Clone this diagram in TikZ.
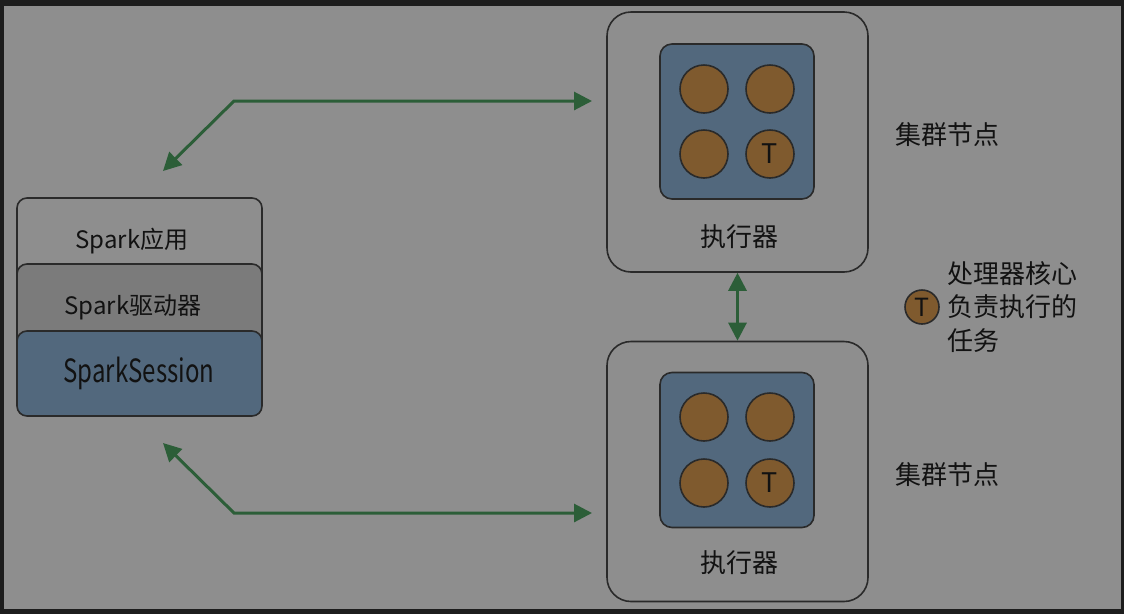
\documentclass[tikz,border=0pt]{standalone}
\usepackage{fontspec}
\setmainfont{Noto Sans CJK SC}
\newfontfamily\condfont[FakeStretch=0.75]{Noto Sans CJK SC}
\usetikzlibrary{arrows.meta}
\definecolor{frameC}{HTML}{1D1D1D}
\definecolor{bgC}{HTML}{8E8E8E}
\definecolor{midC}{HTML}{7B7B7B}
\definecolor{blueC}{HTML}{52687D}
\definecolor{brownC}{HTML}{7F5A2E}
\definecolor{greenC}{HTML}{2C5E38}
\definecolor{lineC}{HTML}{2A2A2A}
\definecolor{textC}{HTML}{121212}
\tikzset{
  layerbox/.style={draw=lineC, line width=1.6pt, rounded corners=10pt, minimum width=245pt, inner sep=0pt},
  outerbox/.style={draw=lineC, line width=1.6pt, rounded corners=24pt, fill=bgC, minimum width=261pt, minimum height=260pt, inner sep=0pt},
  corebox/.style={draw=lineC, line width=1.6pt, rounded corners=12pt, fill=blueC, minimum width=154pt, minimum height=155pt, inner sep=0pt},
  coreC/.style={circle, draw=lineC, line width=1.6pt, fill=brownC, minimum size=48pt, inner sep=0pt, font=\fontsize{27}{27}\selectfont, text=textC},
  lbl/.style={text=textC, inner sep=0pt, font=\fontsize{26}{26}\selectfont},
  conn/.style={draw=greenC, line width=3pt, {Triangle[length=18pt,width=18pt]}-{Triangle[length=18pt,width=18pt]}},
}
\begin{document}
\begin{tikzpicture}[x=1pt,y=-1pt]
\fill[frameC] (0,0) rectangle (1124,614);
\fill[bgC] (4,6) rectangle (1121,609);
\useasboundingbox (0,0) rectangle (1124,614);

% left stack
\node[layerbox, fill=bgC, minimum height=102pt] (app) at (139.5,249) {};
\node[layerbox, fill=midC, minimum height=100pt] (drv) at (139.5,314) {};
\node[layerbox, fill=blueC, minimum height=85pt] (sess) at (139.5,373.5) {};
\node[lbl, font=\fontsize{24}{24}\selectfont] (appT) at (132,241) {Spark应用};
\node[lbl, font=\fontsize{24}{24}\selectfont] (drvT) at (133,307) {Spark驱动器};
\node[lbl, font=\condfont\fontsize{32}{32}\selectfont] (sessT) at (139,373) {SparkSession};

% executor 1
\node[outerbox] (ex1) at (737.5,142) {};
\node[corebox] (cpu1) at (737,121.5) {};
\node[coreC] (c11) at (704,89) {};
\node[coreC] (c12) at (770,89) {};
\node[coreC] (c13) at (704,154) {};
\node[coreC] (c14) at (770,154) {T};
\node[lbl] (ex1T) at (739,237) {执行器};

% executor 2
\node[outerbox] (ex2) at (737.5,471.5) {};
\node[corebox] (cpu2) at (737,450) {};
\node[coreC] (c21) at (704,417) {};
\node[coreC] (c22) at (770,417) {};
\node[coreC] (c23) at (704,483) {};
\node[coreC] (c24) at (770,483) {T};
\node[lbl] (ex2T) at (739,563) {执行器};

% cluster labels
\node[lbl] (cl1) at (947,135) {集群节点};
\node[lbl] (cl2) at (947,475) {集群节点};

% legend
\node[coreC, minimum size=34pt, font=\fontsize{25}{25}\selectfont] (leg) at (922,307) {T};
\node[lbl, anchor=west, align=left, font=\fontsize{26}{33.5}\selectfont] (legT) at (947,307) {处理器核心\\负责执行的\\任务};

% connectors
\coordinate (t1) at (163,171);
\coordinate (b1) at (234,101);
\coordinate (r1) at (592,101);
\coordinate (t2) at (163,443);
\coordinate (b2) at (234,513);
\coordinate (r2) at (592,513);
\draw[conn] (t1) -- (b1) -- (r1);
\draw[conn] (t2) -- (b2) -- (r2);
\draw[conn] (ex1.south) -- (ex2.north);
\end{tikzpicture}
\end{document}
